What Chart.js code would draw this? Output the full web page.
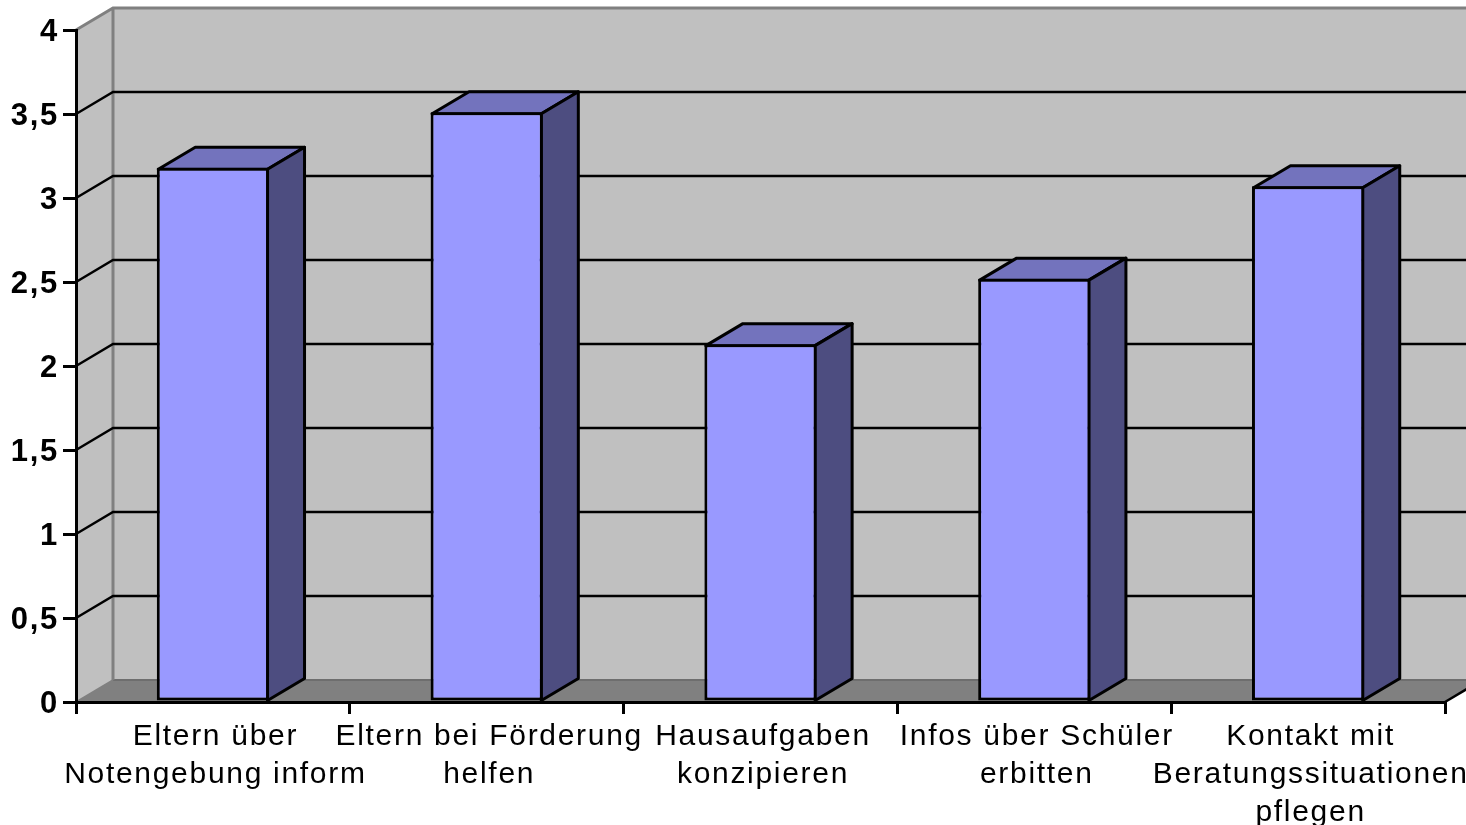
<!DOCTYPE html>
<html>
<head>
<meta charset="utf-8">
<style>html,body{margin:0;padding:0;background:#fff;overflow:hidden}#w{width:1466px;height:825px;position:relative}</style>
<script src="https://cdn.jsdelivr.net/npm/chart.js@4"></script>
</head>
<body>
<div id="w"><canvas id="c" width="1466" height="825"></canvas></div>
<script>
const categories = [
  ["Eltern über", "Notengebung inform"],
  ["Eltern bei Förderung", "helfen"],
  ["Hausaufgaben", "konzipieren"],
  ["Infos über Schüler", "erbitten"],
  ["Kontakt mit", "Beratungssituationen", "pflegen"]
];
const seriesValues = [3.18, 3.51, 2.13, 2.52, 3.07];
const yMin = 0, yMax = 4, yStep = 0.5;

const DX = 37, DY = 22;
const WALL = '#c0c0c0', FLOOR = '#808080', EDGE = '#808080';
const FRONT = '#9999ff', TOP = '#7373bd', SIDE = '#4d4d80';

function poly(ctx, pts, fill, stroke, lw) {
  ctx.beginPath();
  pts.forEach((p, i) => i ? ctx.lineTo(p[0], p[1]) : ctx.moveTo(p[0], p[1]));
  ctx.closePath();
  if (fill) { ctx.fillStyle = fill; ctx.fill(); }
  if (stroke) { ctx.strokeStyle = stroke; ctx.lineWidth = lw; ctx.lineJoin = 'round'; ctx.stroke(); }
}

const box3d = {
  id: 'box3d',
  beforeDraw(chart) {
    const { ctx, chartArea: a, scales: { y } } = chart;
    ctx.letterSpacing = '1.7px';
    const t = a.top, b = a.bottom, l = a.left, r = a.right;
    ctx.save();
    ctx.letterSpacing = '0px';
    poly(ctx, [[l + DX, t - DY], [r + DX, t - DY], [r + DX, b - DY], [l + DX, b - DY]], WALL);
    poly(ctx, [[l, t], [l + DX, t - DY], [l + DX, b - DY], [l, b]], WALL);
    poly(ctx, [[l, b], [l + DX, b - DY], [r + DX, b - DY], [r, b]], FLOOR);
    ctx.strokeStyle = '#6e6e6e'; ctx.lineWidth = 2;
    ctx.beginPath(); ctx.moveTo(l + DX, b - DY); ctx.lineTo(r + DX, b - DY); ctx.stroke();
    ctx.strokeStyle = EDGE; ctx.lineWidth = 3;
    ctx.beginPath();
    ctx.moveTo(l, t); ctx.lineTo(l + DX, t - DY); ctx.lineTo(r + DX, t - DY);
    ctx.moveTo(l + DX, t - DY); ctx.lineTo(l + DX, b - DY);
    ctx.stroke();
    ctx.lineWidth = 1.5;
    ctx.beginPath(); ctx.moveTo(l, b); ctx.lineTo(l + DX, b - DY); ctx.stroke();
    ctx.strokeStyle = '#000'; ctx.lineWidth = 2.5;
    y.ticks.forEach(tk => {
      if (tk.value <= yMin || tk.value >= yMax) return;
      const py = y.getPixelForValue(tk.value);
      ctx.beginPath();
      ctx.moveTo(l, py); ctx.lineTo(l + DX, py - DY); ctx.lineTo(r + DX, py - DY);
      ctx.stroke();
    });
    ctx.beginPath(); ctx.moveTo(r, b); ctx.lineTo(r + DX, b - DY); ctx.stroke();
    ctx.restore();
  },
  beforeDatasetsDraw(chart) {
    const { ctx } = chart;
    const meta = chart.getDatasetMeta(0);
    ctx.save();
    meta.data.forEach(el => {
      const p = el.getProps(['x', 'y', 'base', 'width'], true);
      const x0 = p.x - p.width / 2 + 1.5, x1 = p.x + p.width / 2 - 1.5, yt = p.y + 1.5, yb = p.base;
      poly(ctx, [[x0, yt], [x0 + DX, yt - DY], [x1 + DX, yt - DY], [x1, yt]], TOP, '#000', 3);
      poly(ctx, [[x1, yt], [x1 + DX, yt - DY], [x1 + DX, yb - DY], [x1, yb]], SIDE, '#000', 3);
    });
    ctx.restore();
  }
};

new Chart(document.getElementById('c'), {
  type: 'bar',
  data: {
    labels: categories,
    datasets: [{
      data: seriesValues,
      backgroundColor: FRONT,
      borderColor: '#000',
      borderWidth: 3,
      borderSkipped: false,
      barPercentage: 0.41,
      categoryPercentage: 1
    }]
  },
  options: {
    responsive: false,
    animation: false,
    layout: { padding: { top: 30, right: 21, left: 0, bottom: 0 } },
    plugins: { legend: { display: false }, tooltip: { enabled: false }, title: { display: false } },
    scales: {
      x: {
        afterFit(s) { s.height = 123; },
        grid: { drawOnChartArea: false, color: '#000', lineWidth: 3, tickLength: 12, tickColor: '#000', offset: true },
        border: { display: true, color: '#000', width: 3 },
        ticks: {
          autoSkip: false, maxRotation: 0, minRotation: 0, padding: 4, labelOffset: 2.5,
          color: '#000',
          font: { family: '"Liberation Sans", Arial, sans-serif', size: 30, lineHeight: 1.267 }
        }
      },
      y: {
        min: yMin, max: yMax,
        afterFit(s) { s.width = 76; },
        grid: { drawOnChartArea: false, color: '#000', lineWidth: 3, tickLength: 13, tickColor: '#000' },
        border: { display: true, color: '#000', width: 3 },
        ticks: {
          stepSize: yStep, padding: 4, color: '#000', labelOffset: 2,
          font: { family: '"Liberation Sans", Arial, sans-serif', size: 31, weight: 'bold' },
          callback: v => String(v).replace('.', ',')
        }
      }
    }
  },
  plugins: [box3d]
});
</script>
</body>
</html>
